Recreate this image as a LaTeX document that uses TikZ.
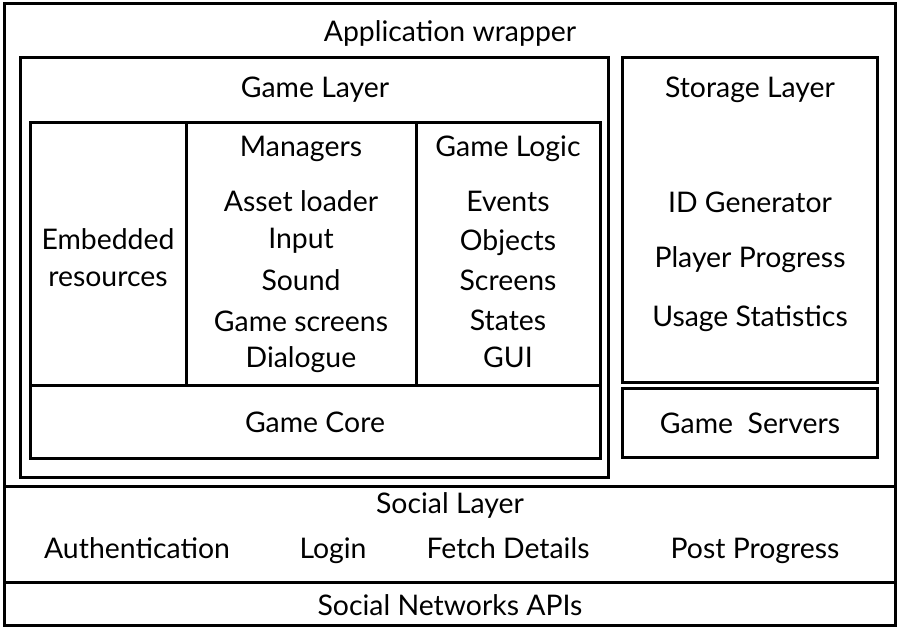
\documentclass[tikz,border=0pt]{standalone}
\usepackage{fontspec}
\setmainfont{Lato}
\begin{document}
\begin{tikzpicture}[x=1bp,y=-1bp,
  box/.style={draw=black, line width=3bp, inner sep=0pt, outer sep=0pt},
  lbl/.style={inner sep=0pt, font=\fontsize{28.5}{32}\selectfont, anchor=center, text height=20bp, text depth=0bp},
  sep/.style={draw=black, line width=3bp}]
\useasboundingbox (0,0) rectangle (897,627);
% outer application wrapper
\node[box, minimum width=890bp, minimum height=621bp] (app) at (450,314.5) {};
\node[lbl] (appt) at (450,32) {Application wrapper};
% game layer
\node[box, minimum width=587bp, minimum height=419bp] (gl) at (314.5,267.5) {};
\node[lbl] (glt) at (315,88) {Game Layer};
% inner game box
\node[box, minimum width=569bp, minimum height=335bp] (inner) at (315.5,290.5) {};
\coordinate (coreL) at (31,385);
\coordinate (coreR) at (600,385);
\draw[sep] (coreL) -- (coreR);
\coordinate (c1t) at (186,123);
\coordinate (c1b) at (186,385);
\coordinate (c2t) at (416,123);
\coordinate (c2b) at (416,385);
\draw[sep] (c1t) -- (c1b);
\draw[sep] (c2t) -- (c2b);
% embedded
\node[lbl] (emb1) at (108,240) {Embedded};
\node[lbl] (emb2) at (108,276) {resources};
% managers
\node[lbl] (man) at (301,147) {Managers};
\node[lbl] (m1) at (301,202) {Asset loader};
\node[lbl] (m2) at (301,239) {Input};
\node[lbl] (m3) at (301,280) {Sound};
\node[lbl] (m4) at (301,321) {Game screens};
\node[lbl] (m5) at (301,357) {Dialogue};
% game logic
\node[lbl] (gls) at (508,147) {Game Logic};
\node[lbl] (g1) at (508,202) {Events};
\node[lbl] (g2) at (508,241) {Objects};
\node[lbl] (g3) at (508,280) {Screens};
\node[lbl] (g4) at (508,320) {States};
\node[lbl] (g5) at (508,357) {GUI};
% game core
\node[lbl] (core) at (315,422) {Game Core};
% storage
\node[box, minimum width=255bp, minimum height=324bp] (st) at (749.5,220) {};
\node[lbl] (stt) at (750,88) {Storage Layer};
\node[lbl] (s1) at (750,203) {ID Generator};
\node[lbl] (s2) at (750,258) {Player Progress};
\node[lbl] (s3) at (750,316) {Usage Statistics};
% game servers
\node[box, minimum width=255bp, minimum height=69bp] (gs) at (749.5,422.5) {};
\node[lbl] (gst) at (750,423) {Game\ \ Servers};
% social layer
\coordinate (slL) at (5,486);
\coordinate (slR) at (895,486);
\draw[sep] (slL) -- (slR);
\node[lbl] (slt) at (450,503) {Social Layer};
\node[lbl] (a1) at (137,548) {Authentication};
\node[lbl] (a2) at (333,548) {Login};
\node[lbl] (a3) at (508,548) {Fetch Details};
\node[lbl] (a4) at (755,548) {Post Progress};
% social networks apis
\coordinate (snL) at (5,582);
\coordinate (snR) at (895,582);
\draw[sep] (snL) -- (snR);
\node[lbl] (snt) at (450,605) {Social Networks APIs};
\end{tikzpicture}
\end{document}
